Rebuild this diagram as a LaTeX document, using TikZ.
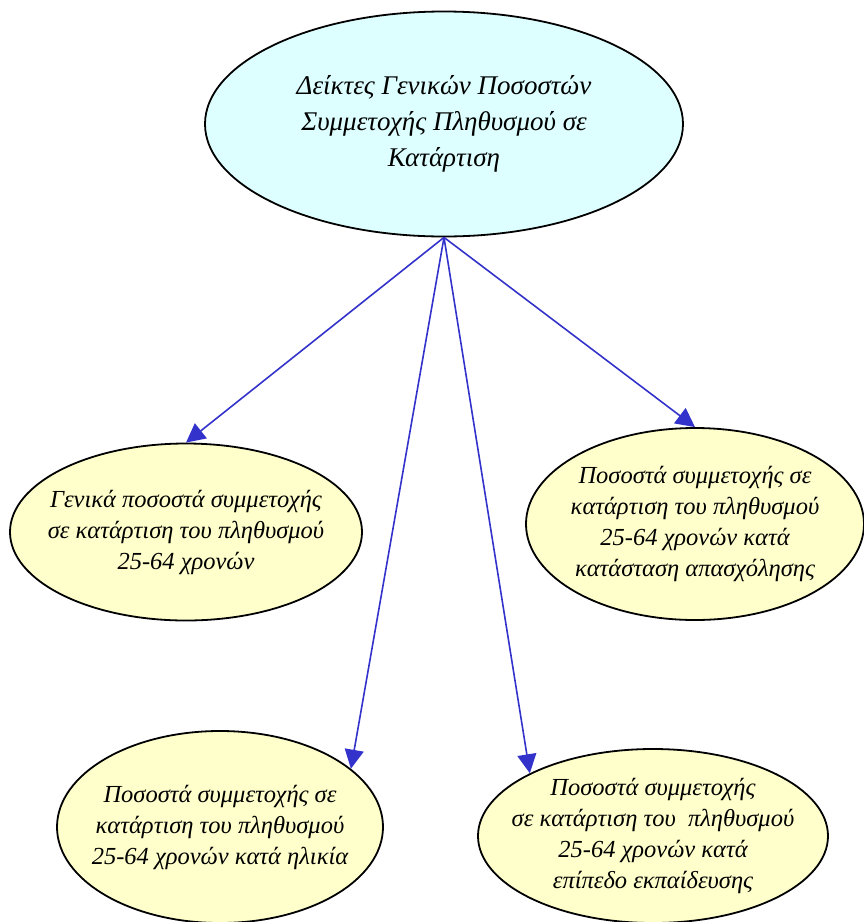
\documentclass[tikz,border=0pt]{standalone}
\usepackage{fontspec}
\setmainfont{Liberation Serif}
\usepackage{xcolor}
\usetikzlibrary{arrows.meta}
\usetikzlibrary{shapes.geometric}
\definecolor{skycyan}{RGB}{221,255,255}
\definecolor{paleyel}{RGB}{255,255,204}
\definecolor{arrblue}{RGB}{51,51,204}
\tikzstyle{oval}=[ellipse,draw,line width=1.8pt,inner sep=-40pt,align=center,font=\fontsize{24.5}{31}\selectfont\itshape]
\tikzstyle{root}=[oval,fill=skycyan,font=\fontsize{27}{36}\selectfont\itshape]
\tikzstyle{leaf}=[oval,fill=paleyel]
\tikzstyle{link}=[line width=1.6pt,color=arrblue,-{Triangle[length=19pt,width=19pt]}]

\begin{document}
\begin{tikzpicture}[x=1pt,y=-1pt]
	\useasboundingbox (0,0) rectangle (864,922);
	\node[root,minimum width=478pt,minimum height=225pt] (top) at (444,124)
	  {Δείκτες Γενικών Ποσοστών\\Συμμετοχής Πληθυσμού σε\\Κατάρτιση};
	\node[leaf,minimum width=352pt,minimum height=177pt] (gen) at (186,532)
	  {Γενικά ποσοστά συμμετοχής\\σε κατάρτιση του πληθυσμού\\25-64 χρονών};
	\node[leaf,minimum width=338pt,minimum height=192pt] (emp) at (695,524)
	  {Ποσοστά συμμετοχής σε\\κατάρτιση του πληθυσμού\\25-64 χρονών κατά\\κατάσταση απασχόλησης};
	\node[leaf,minimum width=326pt,minimum height=192pt] (age) at (220,827)
	  {Ποσοστά συμμετοχής σε\\κατάρτιση του πληθυσμού\\25-64 χρονών κατά ηλικία};
	\node[leaf,minimum width=350pt,minimum height=174pt] (edu) at (653,836)
	  {Ποσοστά συμμετοχής\\σε κατάρτιση του\ \ πληθυσμού\\25-64 χρονών κατά\\επίπεδο εκπαίδευσης};
	\draw[link] (top.south) -- (gen.north);
	\draw[link] (top.south) -- (emp.north);
	\draw[link] (top.south) -- (age.24);
	\draw[link] (top.south) -- (edu.153);
\end{tikzpicture}
\end{document}
